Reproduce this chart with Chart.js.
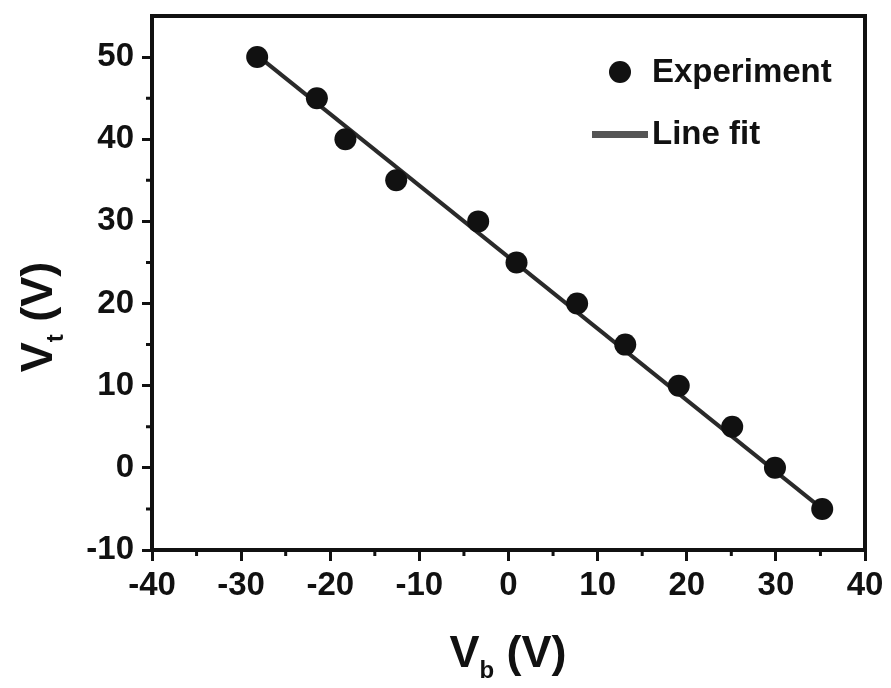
<!DOCTYPE html>
<html>
<head>
<meta charset="utf-8">
<script src="https://cdn.jsdelivr.net/npm/chart.js@4"></script>
<style>
  html, body { margin: 0; padding: 0; background: #fff; }
  #wrap { width: 891px; height: 688px; }
</style>
</head>
<body>
<div id="wrap"><canvas id="vtChart" width="891" height="688"></canvas></div>
<script>
const vbValues = [-28.2, -21.5, -18.3, -12.6, -3.4, 0.9, 7.7, 13.1, 19.1, 25.1, 29.9, 35.2];
const vtValues = [50, 45, 40, 35, 30, 25, 20, 15, 10, 5, 0, -5];

// end points of the fitted line
const fitVb = [-28.2, 35.2];
const fitVt = [50.2, -5.0];

const xTicks = [-40, -30, -20, -10, 0, 10, 20, 30, 40];
const yTicks = [-10, 0, 10, 20, 30, 40, 50];
const xMinorTicks = [-35, -25, -15, -5, 5, 15, 25, 35];
const yMinorTicks = [-5, 5, 15, 25, 35, 45];

const FONT = '"Liberation Sans", Arial, sans-serif';
const INK = '#111';

// frame, minor ticks, axis titles with subscripts, and the legend
const extras = {
    id: 'extras',
    afterDraw(chart) {
        const ctx = chart.ctx;
        const a = chart.chartArea;
        const xs = chart.scales.x, ys = chart.scales.y;
        ctx.save();

        // box round the plot
        ctx.strokeStyle = INK;
        ctx.lineWidth = 4;
        ctx.strokeRect(a.left, a.top, a.right - a.left, a.bottom - a.top);

        // minor ticks
        ctx.lineWidth = 3;
        ctx.beginPath();
        xMinorTicks.forEach(v => {
            const px = xs.getPixelForValue(v);
            ctx.moveTo(px, a.bottom);
            ctx.lineTo(px, a.bottom + 6);
        });
        yMinorTicks.forEach(v => {
            const py = ys.getPixelForValue(v);
            ctx.moveTo(a.left, py);
            ctx.lineTo(a.left - 6, py);
        });
        ctx.stroke();

        ctx.fillStyle = INK;
        ctx.textBaseline = 'alphabetic';

        // axis title: V with subscript, then (V)
        const drawTitle = (sub) => {
            ctx.font = 'bold 45px ' + FONT;
            const wV = ctx.measureText('V').width;
            const wRest = ctx.measureText(' (V)').width;
            ctx.font = 'bold 24px ' + FONT;
            const wSub = ctx.measureText(sub).width;
            const total = wV + wSub + wRest;
            let x = -total / 2;
            ctx.font = 'bold 45px ' + FONT;
            ctx.textAlign = 'left';
            ctx.fillText('V', x, 16);
            x += wV;
            ctx.font = 'bold 24px ' + FONT;
            ctx.fillText(sub, x, 27);
            x += wSub;
            ctx.font = 'bold 45px ' + FONT;
            ctx.fillText(' (V)', x, 16);
        };

        ctx.save();
        ctx.translate(508, 651);
        drawTitle('b');
        ctx.restore();

        ctx.save();
        ctx.translate(36, 317);
        ctx.rotate(-Math.PI / 2);
        drawTitle('t');
        ctx.restore();

        // legend
        ctx.beginPath();
        ctx.arc(620, 72, 11, 0, Math.PI * 2);
        ctx.fill();
        ctx.font = 'bold 33px ' + FONT;
        ctx.textAlign = 'left';
        ctx.textBaseline = 'middle';
        ctx.fillText('Experiment', 652, 73);
        ctx.fillStyle = '#555';
        ctx.fillRect(592, 131, 56, 7);
        ctx.fillStyle = INK;
        ctx.fillText('Line fit', 652, 135);

        ctx.restore();
    }
};

const ctx = document.getElementById('vtChart').getContext('2d');

new Chart(ctx, {
    type: 'scatter',
    data: {
        datasets: [
            {
                label: 'Experiment',
                data: vbValues.map((v, i) => ({ x: v, y: vtValues[i] })),
                pointRadius: 11,
                pointHoverRadius: 11,
                pointBackgroundColor: INK,
                pointBorderColor: INK,
                pointBorderWidth: 0,
                order: 0
            },
            {
                label: 'Line fit',
                type: 'line',
                data: fitVb.map((v, i) => ({ x: v, y: fitVt[i] })),
                borderColor: '#2a2a2a',
                borderWidth: 4,
                pointRadius: 0,
                fill: false,
                order: 1
            }
        ]
    },
    options: {
        responsive: false,
        animation: false,
        layout: { padding: { left: 0, right: 26, top: 16, bottom: 0 } },
        plugins: {
            legend: { display: false },
            tooltip: { enabled: false }
        },
        scales: {
            x: {
                type: 'linear',
                min: -40,
                max: 40,
                afterBuildTicks(scale) {
                    scale.ticks = xTicks.map(v => ({ value: v }));
                },
                afterFit(scale) {
                    scale.height = 138;
                    scale.paddingLeft = 0;
                    scale.paddingRight = 0;
                },
                grid: {
                    drawOnChartArea: false,
                    drawTicks: true,
                    tickLength: 11,
                    tickWidth: 3,
                    tickColor: INK
                },
                border: { display: false },
                ticks: {
                    color: INK,
                    font: { family: FONT, size: 33, weight: 'bold' },
                    padding: 5,
                    maxRotation: 0
                }
            },
            y: {
                type: 'linear',
                min: -10,
                max: 55,
                afterBuildTicks(scale) {
                    scale.ticks = yTicks.map(v => ({ value: v }));
                },
                afterFit(scale) {
                    scale.width = 152;
                    scale.paddingTop = 0;
                    scale.paddingBottom = 0;
                },
                grid: {
                    drawOnChartArea: false,
                    drawTicks: true,
                    tickLength: 10,
                    tickWidth: 3,
                    tickColor: INK
                },
                border: { display: false },
                ticks: {
                    color: INK,
                    font: { family: FONT, size: 33, weight: 'bold' },
                    padding: 8
                }
            }
        }
    },
    plugins: [extras]
});
</script>
</body>
</html>
